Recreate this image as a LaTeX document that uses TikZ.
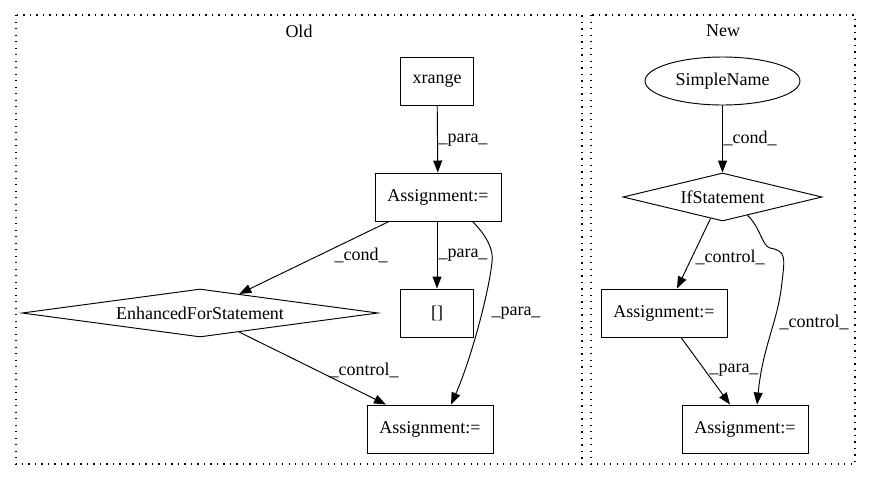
\documentclass[tikz,border=0pt]{standalone}
\usepackage{fontspec}
\setmainfont{Liberation Serif}
\usetikzlibrary{shapes.geometric,arrows.meta,calc}
\begin{document}
\begin{tikzpicture}[x=1pt,y=-1pt,
  every node/.style={font=\fontsize{18}{21}\selectfont},
  box/.style={draw,line width=0.95pt,minimum height=48pt,inner sep=0pt},
  dia/.style={draw,diamond,line width=0.95pt,inner sep=0pt},
  ell/.style={draw,ellipse,line width=0.95pt,inner sep=0pt,minimum width=155pt,minimum height=48pt},
  cluster/.style={draw,line width=1.3pt,dash pattern=on 1.3pt off 5.2pt},
  arr/.style={line width=0.95pt,-{Triangle[length=12pt,width=9pt]}},
  lbl/.style={inner sep=0pt}]
\useasboundingbox (0,0) rectangle (871,480);
% clusters
\draw[cluster] (16,15) rectangle (582,464);
\draw[cluster] (591,15) rectangle (855,464);
\node[lbl] (tOld) at (299,31) {Old};
\node[lbl] (tNew) at (723,31) {New};
% Old nodes
\node[box,minimum width=73pt] (xr) at (437,81) {xrange};
\node[box,minimum width=126pt] (a1) at (438,197) {Assignment:=};
\node[dia,aspect=6.7,minimum width=356pt,minimum height=48pt] (efs) at (200,313) {EnhancedForStatement};
\node[box,minimum width=73pt] (br) at (437,313) {[]};
\node[box,minimum width=126pt] (a2) at (430,429) {Assignment:=};
% New nodes
\node[ell] (sn) at (722.5,81) {SimpleName};
\node[dia,aspect=4.1,minimum width=199pt,minimum height=48pt] (ifs) at (722.5,197) {IfStatement};
\node[box,minimum width=126pt] (n1) at (664,313) {Assignment:=};
\node[box,minimum width=126pt] (n2) at (745,429) {Assignment:=};
% Old edges
\draw[arr] (xr) -- (a1);
\draw[arr] ([xshift=-49pt]a1.south) -- ($(efs.north)!0.22!(efs.east)$);
\draw[arr] ([xshift=-1pt]a1.south) -- ([xshift=0pt]br.north);
\draw[arr] ([xshift=-29pt]a1.south east) .. controls +(14,14) and +(2,-12) .. (492,262)
   .. controls +(-3,30) and +(20,-45) .. ([xshift=21pt]a2.north);
\draw[arr] ($(efs.south)!0.22!(efs.east)$) -- ([xshift=-44pt]a2.north);
\node[lbl] (l1) at (463,140) {\_para\_};
\node[lbl] (l2) at (361,255) {\_cond\_};
\node[lbl] (l3) at (463,255) {\_para\_};
\node[lbl] (l4) at (516,313) {\_para\_};
\node[lbl] (l5) at (364,370) {\_control\_};
% New edges
\draw[arr] (sn) -- (ifs);
\draw[arr] ($(ifs.south)!0.12!(ifs.west)$) -- ([xshift=13pt]n1.north);
\draw[arr] ($(ifs.south)!0.25!(ifs.east)$) .. controls +(13,12) and +(-8,-2) .. (770,248)
   .. controls +(16,3) and +(3,-25) .. (782,282)
   .. controls +(-4,40) and +(6,-60) .. ([xshift=12pt]n2.north);
\draw[arr] ([xshift=17pt]n1.south) -- ([xshift=-15pt]n2.north);
\node[lbl] (m1) at (750,138) {\_cond\_};
\node[lbl] (m2) at (730,257) {\_control\_};
\node[lbl] (m3) at (814,322) {\_control\_};
\node[lbl] (m4) at (734,370) {\_para\_};
\end{tikzpicture}
\end{document}
